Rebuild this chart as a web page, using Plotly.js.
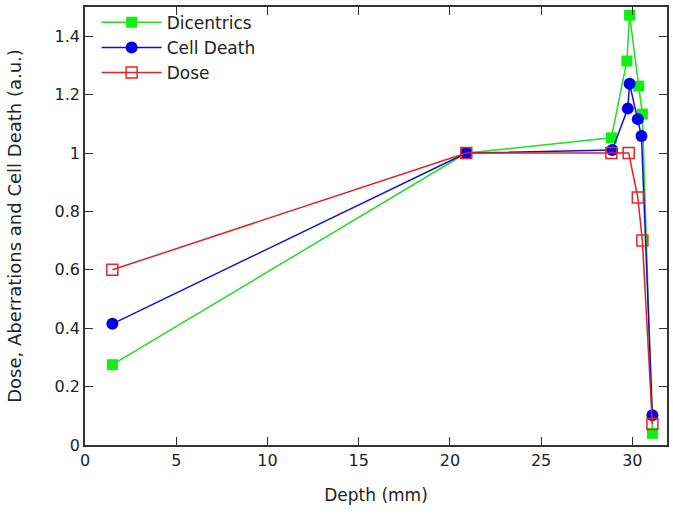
<!DOCTYPE html>
<html>
<head>
<meta charset="utf-8">
<script src="https://cdn.plot.ly/plotly-3.0.1.min.js"></script>
<style>
  html, body { margin: 0; padding: 0; background: #fff; }
  #chart { width: 673px; height: 515px; }
</style>
</head>
<body>
<div id="chart"></div>
<script>
// depth (mm) and normalised responses
const dicentricsDepth = [1.5, 20.9, 28.85, 29.7, 29.85, 30.35, 30.55, 31.1];
const dicentricsValue = [0.275, 1.0, 1.052, 1.315, 1.472, 1.229, 1.133, 0.04];

const cellDeathDepth = [1.5, 20.9, 28.9, 29.75, 29.85, 30.3, 30.5, 31.1];
const cellDeathValue = [0.415, 1.0, 1.01, 1.152, 1.237, 1.116, 1.058, 0.102];

const doseDepth = [1.5, 20.9, 28.85, 29.8, 30.3, 30.55, 31.1];
const doseValue = [0.6, 1.0, 1.0, 1.0, 0.848, 0.70, 0.072];

function makeChart() {
    const chart = document.getElementById('chart');
    const data = [
        {
            x: dicentricsDepth, y: dicentricsValue,
            name: 'Dicentrics', mode: 'lines+markers', type: 'scatter',
            line: { color: '#22dd22', width: 1.5 },
            marker: { symbol: 'square', size: 11, color: '#11ee11' }
        },
        {
            x: cellDeathDepth, y: cellDeathValue,
            name: 'Cell Death', mode: 'lines+markers', type: 'scatter',
            line: { color: '#1010cc', width: 1.5 },
            marker: { symbol: 'circle', size: 12, color: '#0000ee' }
        },
        {
            x: doseDepth, y: doseValue,
            name: 'Dose', mode: 'lines+markers', type: 'scatter',
            line: { color: '#dd2222', width: 1.5 },
            marker: { symbol: 'square-open', size: 11, color: '#ee2222', line: { width: 1.5 } }
        }
    ];
    const axisCommon = {
        showgrid: false,
        zeroline: false,
        showline: true,
        mirror: 'ticks',
        linecolor: '#333',
        linewidth: 1.5,
        ticks: 'inside',
        ticklen: 8,
        tickcolor: '#333',
        tickfont: { family: 'DejaVu Sans', size: 16, color: '#222' }
    };
    const layout = {
        width: 673,
        height: 515,
        paper_bgcolor: '#fff',
        plot_bgcolor: '#fff',
        font: { family: 'DejaVu Sans', color: '#222' },
        margin: { l: 85, r: 6, t: 5, b: 70 },
        showlegend: true,
        legend: {
            x: 0.02, y: 1.005, xanchor: 'left', yanchor: 'top',
            bgcolor: 'rgba(0,0,0,0)',
            font: { family: 'DejaVu Sans', size: 17, color: '#222' },
            itemwidth: 60,
            tracegroupgap: 0
        },
        xaxis: Object.assign({}, axisCommon, {
            range: [0, 31.9],
            dtick: 5,
            title: { text: 'Depth (mm)', font: { family: 'DejaVu Sans', size: 17 }, standoff: 20 }
        }),
        yaxis: Object.assign({}, axisCommon, {
            range: [0, 1.5],
            dtick: 0.2,
            title: { text: 'Dose, Aberrations and Cell Death (a.u.)', font: { family: 'DejaVu Sans', size: 18 }, standoff: 28 }
        })
    };
    Plotly.newPlot(chart, data, layout, { displayModeBar: false });
}
makeChart();
</script>
</body>
</html>
